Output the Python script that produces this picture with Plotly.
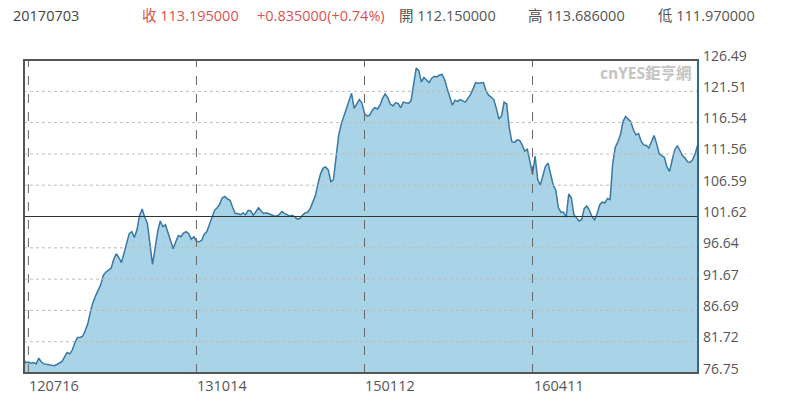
import plotly.graph_objects as go

# ---- data (weekly closes, index 0 = 2012-07-02) ----
values = [
    79.0, 78.4, 78.5, 78.3, 78.4, 78.2, 79.1, 78.5, 78.2, 78.1,
    78.0, 78.0, 77.9, 78.1, 78.4, 78.6, 79.3, 80.0, 79.8, 80.4,
    81.6, 82.4, 82.4, 82.6, 83.5, 84.6, 86.5, 88.0, 89.0, 89.8,
    90.8, 92.3, 92.8, 93.1, 93.4, 94.8, 95.7, 95.1, 94.3, 95.8,
    97.6, 98.9, 99.2, 98.3, 99.5, 101.8, 102.8, 101.5, 100.6, 97.0,
    94.0, 96.5, 99.2, 100.9, 100.0, 100.3, 99.0, 97.5, 96.5, 97.6,
    98.6, 98.4, 99.0, 99.2, 98.9, 98.0, 98.4, 97.7, 97.6, 97.8,
    98.8, 99.2, 100.4, 101.6, 102.6, 103.0, 103.6, 104.6, 104.8, 104.4,
    104.2, 103.1, 102.1, 102.1, 101.9, 102.2, 101.9, 102.6, 102.5, 101.8,
    102.5, 103.0, 102.5, 102.1, 102.2, 102.1, 101.9, 101.7, 101.7, 101.9,
    102.4, 102.1, 101.9, 101.7, 101.8, 101.6, 101.2, 101.3, 101.8, 102.2,
    102.3, 102.9, 103.9, 104.9, 106.8, 108.4, 109.3, 109.5, 109.0, 107.1,
    107.5, 111.2, 114.5, 116.3, 117.5, 118.6, 119.8, 121.2, 118.8, 119.6,
    120.2, 119.7, 118.0, 117.6, 117.7, 118.5, 118.9, 118.7, 119.3, 120.4,
    121.1, 120.5, 119.5, 119.2, 119.7, 119.6, 118.9, 119.8, 119.7, 119.6,
    120.0, 122.8, 125.2, 124.8, 123.0, 123.7, 123.3, 122.9, 123.6, 123.9,
    123.8, 124.1, 124.2, 123.4, 121.9, 120.4, 119.3, 120.1, 119.9, 120.2,
    120.0, 119.8, 120.4, 121.0, 121.9, 122.9, 122.8, 122.9, 122.9, 121.6,
    120.9, 120.6, 120.2, 118.8, 117.1, 117.6, 119.8, 119.5, 115.7, 113.5,
    113.4, 113.8, 113.7, 113.0, 112.0, 112.3, 110.5, 108.4, 111.2, 107.5,
    106.6, 108.2, 109.6, 110.1, 108.5, 106.6, 105.8, 103.0, 102.3, 102.3,
    101.5, 105.2, 104.6, 101.9, 101.4, 100.9, 101.1, 102.9, 103.3, 102.6,
    101.6, 101.1, 102.1, 103.5, 103.9, 103.8, 104.5, 104.3, 110.0, 112.6,
    113.5, 114.6, 116.7, 117.5, 117.1, 116.7, 115.4, 114.6, 114.8, 113.6,
    113.0, 112.9, 112.5, 113.5, 114.5, 113.2, 111.6, 111.3, 111.0, 109.5,
    108.8, 110.6, 112.2, 112.9, 112.0, 111.3, 110.9, 110.3, 110.2, 110.7,
    111.7, 113.2,
]
x_tick_idx = [2, 67, 132, 197]
x_tick_labels = ["120716", "131014", "150112", "160411"]
y_ticks = [76.75, 81.72, 86.69, 91.67, 96.64, 101.62, 106.59, 111.56, 116.54, 121.51, 126.49]
y_tick_labels = ["76.75", "81.72", "86.69", "91.67", "96.64", "101.62",
                 "106.59", "111.56", "116.54", "121.51", "126.49"]
ref_level = 101.62

header_date = "20170703"
close_v = "113.195000"
change_v = "+0.835000(+0.74%)"
open_v = "112.150000"
high_v = "113.686000"
low_v = "111.970000"

# ---- layout geometry ----
W, H = 800, 406
L, R, T, B = 24, 102, 60, 33
PW, PH = W - L - R, H - T - B

def px(xp):
    return (xp - L) / PW

def py(yp):
    return (H - B - yp) / PH

FONT = "Open Sans, Noto Sans CJK TC, sans-serif"
GRAY = "#555555"
RED = "#d9534f"

fig = go.Figure()
fig.add_trace(go.Scatter(
    x=list(range(len(values))), y=values, mode="lines",
    line=dict(color="#3a78a4", width=1.5),
    fill="tozeroy", fillcolor="#a9d4e7",
    hoverinfo="y",
))

shapes = []
for v in y_ticks:
    if v == ref_level:
        shapes.append(dict(type="line", xref="paper", x0=0, x1=1, yref="y", y0=v, y1=v,
                           line=dict(color="#333333", width=1), layer="above"))
    elif v != y_ticks[0] and v != y_ticks[-1]:
        shapes.append(dict(type="line", xref="paper", x0=0, x1=1, yref="y", y0=v, y1=v,
                           line=dict(color="#bbbbbb", width=1, dash="dot"), layer="above"))
for xi in x_tick_idx:
    shapes.append(dict(type="line", xref="x", x0=xi, x1=xi, yref="paper", y0=0, y1=1,
                       line=dict(color="#666666", width=1, dash="dash"), layer="above"))
shapes.append(dict(type="rect", xref="paper", x0=0, x1=1, yref="paper", y0=0, y1=1,
                   line=dict(color="#555555", width=2), layer="above"))
shapes.append(dict(type="line", xref="paper", x0=1, x1=1, yref="paper", y0=0, y1=1,
                   line=dict(color="#2f678f", width=2), layer="above"))

ann = []
for v, t in zip(y_ticks, y_tick_labels):
    ann.append(dict(x=1, xref="paper", y=v, yref="y", text=t, showarrow=False,
                    xanchor="left", yanchor="middle", xshift=3, yshift=5,
                    font=dict(family=FONT, size=14, color=GRAY)))
for xi, t in zip(x_tick_idx, x_tick_labels):
    ann.append(dict(x=xi, xref="x", y=0, yref="paper", text=t, showarrow=False,
                    xanchor="left", yanchor="top", xshift=-1, yshift=-1,
                    font=dict(family=FONT, size=14.5, color=GRAY)))

header = [
    (11, header_date, "#444444"),
    (140, "收 " + close_v, RED),
    (255, change_v, RED),
    (397, "開 " + open_v, GRAY),
    (526, "高 " + high_v, GRAY),
    (656, "低 " + low_v, GRAY),
]
for xp, t, c in header:
    ann.append(dict(x=px(xp), xref="paper", y=py(15), yref="paper", text=t,
                    showarrow=False, xanchor="left", yanchor="middle",
                    font=dict(family=FONT, size=14.5, color=c)))

ann.append(dict(x=px(694), xref="paper", y=py(73), yref="paper", text="<b>cnYES鉅亨網</b>",
                showarrow=False, xanchor="right", yanchor="middle",
                font=dict(family=FONT, size=15.5, color="#c4c4c4")))

fig.update_layout(
    width=W, height=H,
    margin=dict(l=L, r=R, t=T, b=B),
    paper_bgcolor="white", plot_bgcolor="white",
    showlegend=False,
    xaxis=dict(range=[0.3, 261.0], showgrid=False, zeroline=False,
               showticklabels=False, ticks="", fixedrange=True),
    yaxis=dict(range=[y_ticks[0], y_ticks[-1]], showgrid=False, zeroline=False,
               showticklabels=False, ticks="", tickvals=y_ticks, fixedrange=True),
    shapes=shapes,
    annotations=ann,
)

fig.write_html("out.html")
